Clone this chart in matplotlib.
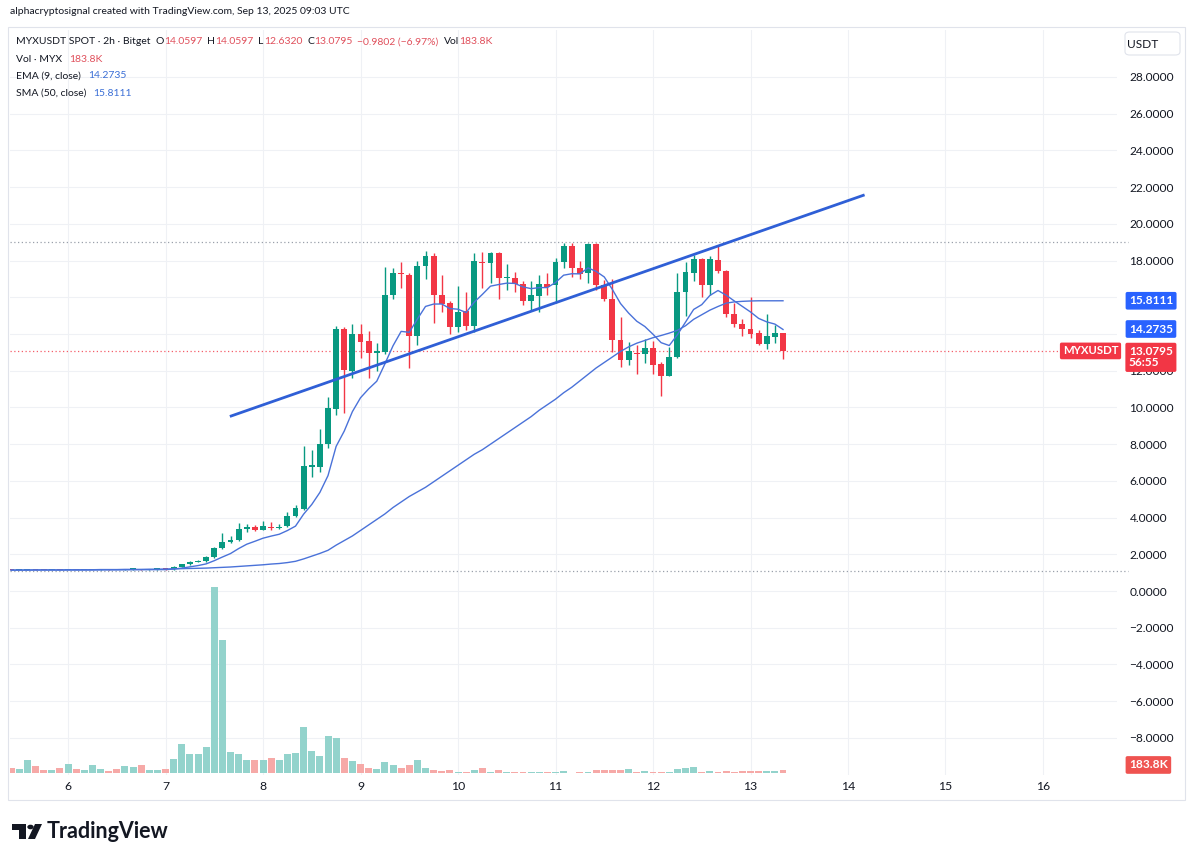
import matplotlib
matplotlib.use("Agg")
import matplotlib.pyplot as plt
import matplotlib.transforms as mtransforms
from matplotlib.patches import Rectangle, Polygon, Circle, FancyBboxPatch
import numpy as np
import pandas as pd

plt.rcParams['font.family'] = ['Lato', 'DejaVu Sans']

# ---- data (2h candles, MYXUSDT, Bitget) ----
start_day = 5 + 10 / 24  # first candle: Sep 5, 10:00 UTC
opens = [1.17, 1.14, 1.15, 1.17, 1.15, 1.14, 1.15, 1.13, 1.15, 1.14,
         1.15, 1.16, 1.17, 1.16, 1.15, 1.17, 1.18, 1.16, 1.17, 1.18,
         1.18, 1.32, 1.45, 1.60, 1.62, 1.85, 2.35, 2.65, 2.80, 3.40,
         3.50, 3.35, 3.50, 3.45, 3.55, 4.10, 4.45, 6.78, 6.75, 8.00,
         9.90, 14.25, 12.00, 14.00, 13.60, 12.95, 13.00, 16.10, 17.32, 17.20,
         13.90, 17.70, 18.25, 16.15, 15.70, 14.40, 15.25, 14.45, 17.95, 17.85,
         18.40, 17.03, 17.05, 16.70, 15.80, 16.05, 16.75, 16.65, 17.90, 18.80,
         17.60, 17.30, 18.90, 16.65, 15.90, 13.70, 12.60, 12.98, 12.90, 13.25,
         12.35, 11.70, 12.75, 16.30, 17.35, 18.10, 16.65, 18.05, 17.45, 15.10,
         14.55, 14.30, 14.05, 13.45, 13.85, 14.0597]
closes = [1.14, 1.15, 1.17, 1.15, 1.14, 1.15, 1.13, 1.15, 1.14, 1.15,
          1.16, 1.17, 1.16, 1.15, 1.17, 1.18, 1.16, 1.17, 1.18, 1.17,
          1.32, 1.45, 1.60, 1.66, 1.85, 2.35, 2.65, 2.80, 3.40, 3.50,
          3.35, 3.55, 3.45, 3.50, 4.10, 4.50, 6.80, 6.82, 8.00, 9.95,
          14.25, 12.05, 14.00, 13.55, 12.95, 13.10, 16.15, 17.30, 17.28, 13.90,
          17.70, 18.25, 16.15, 15.65, 14.40, 15.20, 14.45, 18.00, 17.85, 18.40,
          17.05, 17.07, 16.70, 15.80, 16.10, 16.75, 16.55, 17.90, 18.80, 17.60,
          17.25, 18.90, 16.65, 15.90, 13.70, 12.60, 13.05, 12.93, 13.25, 12.30,
          11.70, 12.75, 16.30, 17.40, 18.10, 16.65, 18.10, 17.45, 15.10, 14.55,
          14.30, 14.00, 13.45, 13.90, 14.06, 13.0795]
highs = [1.18, 1.16, 1.18, 1.18, 1.16, 1.16, 1.16, 1.16, 1.16, 1.16,
         1.17, 1.18, 1.18, 1.17, 1.18, 1.19, 1.19, 1.18, 1.19, 1.19,
         1.34, 1.48, 1.63, 1.70, 1.90, 2.40, 3.15, 3.00, 3.70, 3.65,
         3.60, 3.80, 3.75, 3.65, 4.30, 4.70, 7.90, 7.70, 8.80, 10.55,
         14.45, 14.40, 14.55, 14.55, 14.15, 13.50, 17.65, 17.60, 17.90, 17.30,
         18.00, 18.50, 18.40, 17.20, 15.80, 16.60, 16.30, 18.40, 18.45, 18.45,
         18.45, 17.80, 17.40, 16.90, 16.90, 17.20, 17.30, 18.15, 18.95, 18.95,
         18.00, 18.95, 18.95, 16.95, 17.00, 14.95, 13.55, 13.40, 13.75, 13.60,
         12.50, 13.30, 17.30, 17.90, 18.30, 18.15, 18.25, 18.80, 17.50, 15.70,
         14.80, 16.00, 14.20, 15.10, 14.50, 14.0597]
lows = [1.12, 1.13, 1.14, 1.14, 1.13, 1.13, 1.12, 1.12, 1.13, 1.13,
        1.14, 1.15, 1.15, 1.14, 1.14, 1.16, 1.15, 1.15, 1.16, 1.16,
        1.16, 1.30, 1.42, 1.56, 1.60, 1.82, 2.30, 2.60, 2.75, 3.20,
        3.25, 3.30, 3.30, 3.40, 3.50, 4.05, 4.40, 6.20, 6.50, 7.80,
        9.60, 9.70, 11.60, 12.70, 11.60, 12.00, 12.90, 15.90, 16.50, 12.15,
        13.40, 17.00, 14.60, 15.20, 14.00, 14.10, 14.20, 14.10, 16.50, 16.80,
        15.90, 16.40, 16.30, 15.60, 15.27, 15.20, 16.10, 15.70, 17.60, 17.10,
        17.00, 16.80, 16.40, 15.80, 13.00, 12.20, 12.30, 11.80, 12.40, 11.80,
        10.60, 11.70, 12.70, 15.00, 16.90, 16.00, 16.10, 17.30, 14.90, 14.40,
        13.90, 13.80, 13.40, 13.20, 13.50, 12.632]
volumes_k = [305, 226, 775, 409, 165, 165, 287, 531, 226, 165,
             470, 226, 104, 226, 409, 348, 488, 165, 165, 226,
             836, 1751, 1141, 1141, 1568, 11346, 8095, 1263, 1141, 775,
             775, 775, 897, 775, 1141, 1202, 2806, 1324, 1019, 2239,
             2117, 897, 714, 531, 287, 226, 653, 470, 287, 470,
             775, 305, 183, 140, 201, 79, 79, 201, 305, 79,
             201, 79, 79, 79, 79, 43, 79, 79, 140, 18,
             79, 79, 201, 165, 201, 201, 262, 79, 140, 79,
             79, 79, 244, 305, 384, 79, 122, 79, 122, 79,
             140, 122, 140, 122, 122, 183.8]
sma50 = [1.14, 1.14, 1.14, 1.15, 1.15, 1.15, 1.15, 1.16, 1.16, 1.16,
         1.16, 1.17, 1.17, 1.17, 1.18, 1.18, 1.18, 1.19, 1.19, 1.20,
         1.21, 1.22, 1.23, 1.24, 1.25, 1.27, 1.29, 1.31, 1.34, 1.37,
         1.40, 1.43, 1.47, 1.50, 1.55, 1.62, 1.75, 1.90, 2.05, 2.22,
         2.50, 2.75, 3.00, 3.30, 3.60, 3.90, 4.20, 4.55, 4.85, 5.15,
         5.40, 5.65, 5.95, 6.25, 6.55, 6.85, 7.15, 7.45, 7.70, 8.00,
         8.30, 8.60, 8.90, 9.20, 9.50, 9.85, 10.15, 10.45, 10.80, 11.10,
         11.45, 11.80, 12.15, 12.45, 12.75, 13.05, 13.30, 13.50, 13.65, 13.80,
         13.92, 14.05, 14.20, 14.45, 14.80, 15.05, 15.30, 15.50, 15.68, 15.75,
         15.78, 15.80, 15.81, 15.81, 15.81, 15.8111]
# trend line drawn on the chart (day, price)
trend_x = [7.66, 14.17]
trend_y = [9.51, 21.58]
range_high = 19.01
range_low = 1.09
last_price = 13.0795
ema9_last = 14.2735
sma50_last = 15.8111
x_days = [6, 7, 8, 9, 10, 11, 12, 13, 14, 15, 16]
price_ticks = list(range(-8, 29, 2))
hidden_ticks = [14, 16]  # covered by the indicator price labels

n = len(closes)
t = start_day + np.arange(n) / 12.0
ema9 = pd.Series(closes).ewm(span=9, adjust=False).mean().values

W, H = 1195, 861
def fx(p): return p / W
def fy(p): return 1 - p / H

GREEN, RED = '#089981', '#f23645'
VGREEN, VRED = '#93d3cc', '#f6a9a7'
DARK = '#131722'
BLUE = '#2962ff'
TXTRED = '#e0505c'

fig = plt.figure(figsize=(W / 100, H / 100), dpi=100)
fig.patch.set_facecolor('white')

ax = fig.add_axes([fx(10), fy(775), fx(1117) - fx(10), fy(30) - fy(775)])
ax.set_zorder(1)
ax.set_xlim(5.405, 16.759)
ax.set_ylim(-10.02, 30.56)
for s in ax.spines.values():
    s.set_visible(False)
ax.grid(True, color='#eff1f5', lw=0.8)
ax.set_axisbelow(True)
ax.set_xticks(x_days)
ax.set_xticklabels([str(d) for d in x_days])
ax.set_yticks(price_ticks)
ax.set_yticklabels(['' if v in hidden_ticks else f"{v:.4f}".replace('-', '\u2212')
                    for v in price_ticks])
ax.yaxis.tick_right()
ax.tick_params(axis='y', length=0, pad=9, labelsize=8.6, labelcolor=DARK)
ax.tick_params(axis='x', length=0, pad=4, labelsize=8.8, labelcolor=DARK)
for lab in ax.get_yticklabels():
    lab.set_horizontalalignment('left')

# horizontal dotted lines
ax.axhline(range_high, xmax=1.01, color='#9aa0ab', lw=0.9, ls=(0, (1, 2)), clip_on=False)
ax.axhline(range_low, xmax=1.01, color='#9aa0ab', lw=0.9, ls=(0, (1, 2)), clip_on=False)
ax.axhline(last_price, xmax=0.95, color=RED, lw=0.9, ls=(0, (1, 2)), alpha=0.8, clip_on=False)

# candles
cw = 0.72 / 12
for i in range(n):
    up = closes[i] >= opens[i]
    col = GREEN if up else RED
    ax.vlines(t[i], lows[i], highs[i], color=col, lw=1.0, zorder=3)
    lo = min(opens[i], closes[i])
    hh = max(abs(closes[i] - opens[i]), 0.06)
    ax.bar(t[i], hh, bottom=lo, width=cw, color=col, lw=0, zorder=4)

ax.plot(t, ema9, color='#4a72d9', lw=1.0, zorder=5)
ax.plot(t, sma50, color='#4a72d9', lw=1.0, zorder=5)
ax.plot(trend_x, trend_y, color='#2f5fd6', lw=2.0, zorder=6, solid_capstyle='butt')

# volume overlay
axv = fig.add_axes(ax.get_position(), sharex=ax)
axv.set_zorder(2)
axv.patch.set_visible(False)
axv.axis('off')
axv.set_ylim(-122, 45323)
vcols = [VGREEN if closes[i] >= opens[i] else VRED for i in range(n)]
axv.bar(t, volumes_k, width=0.86 / 12, color=vcols, lw=0)
axv.set_xlim(5.405, 16.759)

# right-axis labels
blend = mtransforms.blended_transform_factory(ax.transAxes, ax.transData)
def price_box(y, txt, fc, xpos=1.0108, fs=8.6):
    ax.text(xpos, y, txt, transform=blend, ha='left', va='center', color='white',
            fontsize=fs, fontweight='bold', zorder=10, clip_on=False,
            bbox=dict(boxstyle='round,pad=0.28,rounding_size=0.15', fc=fc, ec='none'))

price_box(sma50_last, f"{sma50_last:.4f}", BLUE)
price_box(ema9_last, f"{ema9_last:.4f}", BLUE)
ax.text(1.0108, last_price - 0.35, f"{last_price:.4f}\n56:55", transform=blend, ha='left',
        va='center', color='white', fontsize=8.6, fontweight='bold', zorder=10,
        clip_on=False, linespacing=1.0,
        bbox=dict(boxstyle='round,pad=0.3,rounding_size=0.15', fc=RED, ec='none'))
ax.text(0.951, last_price, "MYXUSDT", transform=blend, ha='left', va='center', color='white',
        fontsize=8.2, fontweight='bold', zorder=10, clip_on=False,
        bbox=dict(boxstyle='round,pad=0.25,rounding_size=0.15', fc=RED, ec='none'))
vblend = mtransforms.blended_transform_factory(axv.transAxes, axv.transData)
axv.text(1.0108, 490, "183.8K", transform=vblend, ha='left', va='center',
         color='white', fontsize=8.6, fontweight='bold', zorder=10, clip_on=False,
         bbox=dict(boxstyle='round,pad=0.28,rounding_size=0.15', fc='#ef5350', ec='none'))

# frame
fig.add_artist(Rectangle((fx(8), fy(800)), fx(1185) - fx(8), fy(27) - fy(800),
                         transform=fig.transFigure, fill=False, ec='#e0e3eb', lw=0.8))
fig.add_artist(FancyBboxPatch((fx(1125), fy(55)), fx(55), fy(32) - fy(55),
                              boxstyle='round,pad=0,rounding_size=0.004',
                              transform=fig.transFigure, fc='white', ec='#e0e3eb', lw=0.8))
fig.text(fx(1143), fy(44), "USDT", ha='center', va='center', fontsize=8.6, color=DARK)

# header texts
fig.text(fx(10), fy(12), "alphacryptosignal created with TradingView.com, Sep 13, 2025 09:03 UTC",
         ha='left', va='center', fontsize=7.5, color=DARK)

renderer = fig.canvas.get_renderer()
def put_row(x, y, pieces, fs=7.5):
    for txt, col, gap in pieces:
        tt = fig.text(fx(x), fy(y), txt, ha='left', va='center', fontsize=fs, color=col)
        x += tt.get_window_extent(renderer).width + gap

put_row(16, 42, [("MYXUSDT SPOT \u00b7 2h \u00b7 Bitget", DARK, 5), ("O", DARK, 0),
                 ("14.0597", TXTRED, 5), ("H", DARK, 0), ("14.0597", TXTRED, 5),
                 ("L", DARK, 0), ("12.6320", TXTRED, 5), ("C", DARK, 0),
                 ("13.0795", TXTRED, 5), ("\u22120.9802 (\u22126.97%)", TXTRED, 5),
                 ("Vol", DARK, 0), ("183.8K", TXTRED, 0)])
put_row(16, 59, [("Vol \u00b7 MYX", DARK, 7), ("183.8K", TXTRED, 0)])
put_row(16, 76, [("EMA (9, close)", DARK, 7), ("14.2735", '#3b6fd6', 0)])
put_row(16, 93, [("SMA (50, close)", DARK, 7), ("15.8111", '#3b6fd6', 0)])

# TradingView logo
fig.add_artist(Polygon([(fx(12), fy(824)), (fx(26), fy(824)), (fx(26), fy(839)),
                        (fx(19), fy(839)), (fx(19), fy(830)), (fx(12), fy(830))],
                       closed=True, transform=fig.transFigure, fc=DARK, ec='none'))
fig.add_artist(Circle((fx(30.5), fy(827)), 3.2 / W, transform=fig.transFigure, fc=DARK, ec='none'))
fig.add_artist(Polygon([(fx(35), fy(824)), (fx(42), fy(824)), (fx(35), fy(839)), (fx(28), fy(839))],
                       closed=True, transform=fig.transFigure, fc=DARK, ec='none'))
fig.text(fx(47), fy(831), "TradingView", ha='left', va='center', fontsize=15.5,
         fontweight='bold', color=DARK)

fig.savefig("out.png", dpi=100)
